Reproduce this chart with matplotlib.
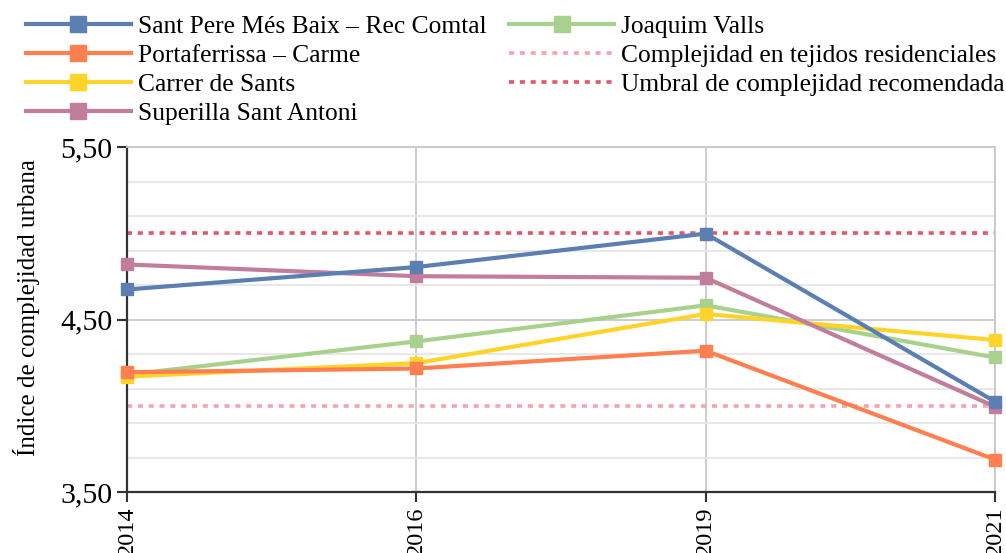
import matplotlib
matplotlib.use("Agg")
import matplotlib.pyplot as plt
from matplotlib.lines import Line2D
from matplotlib.ticker import FixedLocator

plt.rcParams['font.family'] = ['Liberation Serif', 'DejaVu Serif']

years = ["2014", "2016", "2019", "2021"]
series_names = [
    "Sant Pere Més Baix – Rec Comtal",
    "Portaferrissa – Carme",
    "Carrer de Sants",
    "Superilla Sant Antoni",
    "Joaquim Valls",
]
sant_pere = [4.674, 4.804, 4.998, 4.024]
portaferrissa = [4.194, 4.216, 4.319, 3.688]
carrer_sants = [4.169, 4.247, 4.532, 4.381]
superilla = [4.819, 4.751, 4.742, 3.995]
joaquim = [4.18, 4.373, 4.582, 4.280]
residencial_value = 4.0
umbral_value = 5.0
ref_names = ["Complejidad en tejidos residenciales", "Umbral de complejidad recomendada"]
y_ticks = [3.5, 4.5, 5.5]
y_ticklabels = ["3,50", "4,50", "5,50"]

colors = ["#5a7fb0", "#ff7f50", "#ffd42a", "#c07d9c", "#a9d18e"]
ref_colors = ["#f4a4ae", "#e0566b"]

fig = plt.figure(figsize=(10.06, 5.53), dpi=100)
ax = fig.add_axes([127/1006, 1-492/553, (995-127)/1006, (492-147)/553])

x = list(range(len(years)))
ax.axhline(residencial_value, color=ref_colors[0], lw=2.6, dashes=(1.4, 1.6), zorder=2)
ax.axhline(umbral_value, color=ref_colors[1], lw=2.6, dashes=(1.4, 1.6), zorder=2)

data = [sant_pere, portaferrissa, carrer_sants, superilla, joaquim]
draw_order = [4, 2, 1, 3, 0]
for i in draw_order:
    ax.plot(x, data[i], color=colors[i], lw=3.0, marker='s', ms=8.5, zorder=3, clip_on=False)

ax.set_xlim(0, 3)
ax.set_ylim(3.5, 5.5)
ax.set_xticks(x)
ax.set_xticklabels(years, rotation=90, fontsize=17.5)
ax.set_yticks(y_ticks)
ax.set_yticklabels(y_ticklabels, fontsize=21.5)
ax.yaxis.set_minor_locator(FixedLocator([3.7, 3.9, 4.1, 4.3, 4.7, 4.9, 5.1, 5.3]))
ax.tick_params(axis='y', which='minor', length=0)
ax.tick_params(axis='both', which='major', length=7.5, width=1.5, color='#333333', pad=3)
ax.grid(True, which='major', color='#c8c8c8', lw=1.3, zorder=0)
ax.grid(True, which='minor', axis='y', color='#e6e6e6', lw=1.3, zorder=0)
ax.set_axisbelow(True)
for s in ['top', 'right']:
    ax.spines[s].set_color('#c8c8c8')
    ax.spines[s].set_linewidth(1.3)
for s in ['left', 'bottom']:
    ax.spines[s].set_color('#333333')
    ax.spines[s].set_linewidth(1.6)
ax.set_ylabel("Índice de complejidad urbana", fontsize=18)
ax.yaxis.set_label_coords(-0.100, 0.536)

handles = []
for i in range(5):
    handles.append(Line2D([], [], color=colors[i], lw=3.0, marker='s', ms=12))
for c in ref_colors:
    handles.append(Line2D([], [], color=c, lw=2.6, dashes=(1.4, 1.6)))
labels = series_names + ref_names
fig.legend(handles, labels, ncol=2, loc='upper left', bbox_to_anchor=(26/1006, 1-15/553),
           frameon=False, fontsize=18.4, handlelength=4.1, handletextpad=0.27,
           columnspacing=0.9, labelspacing=0.235, borderaxespad=0, borderpad=0)

fig.savefig("out.png", dpi=100)
